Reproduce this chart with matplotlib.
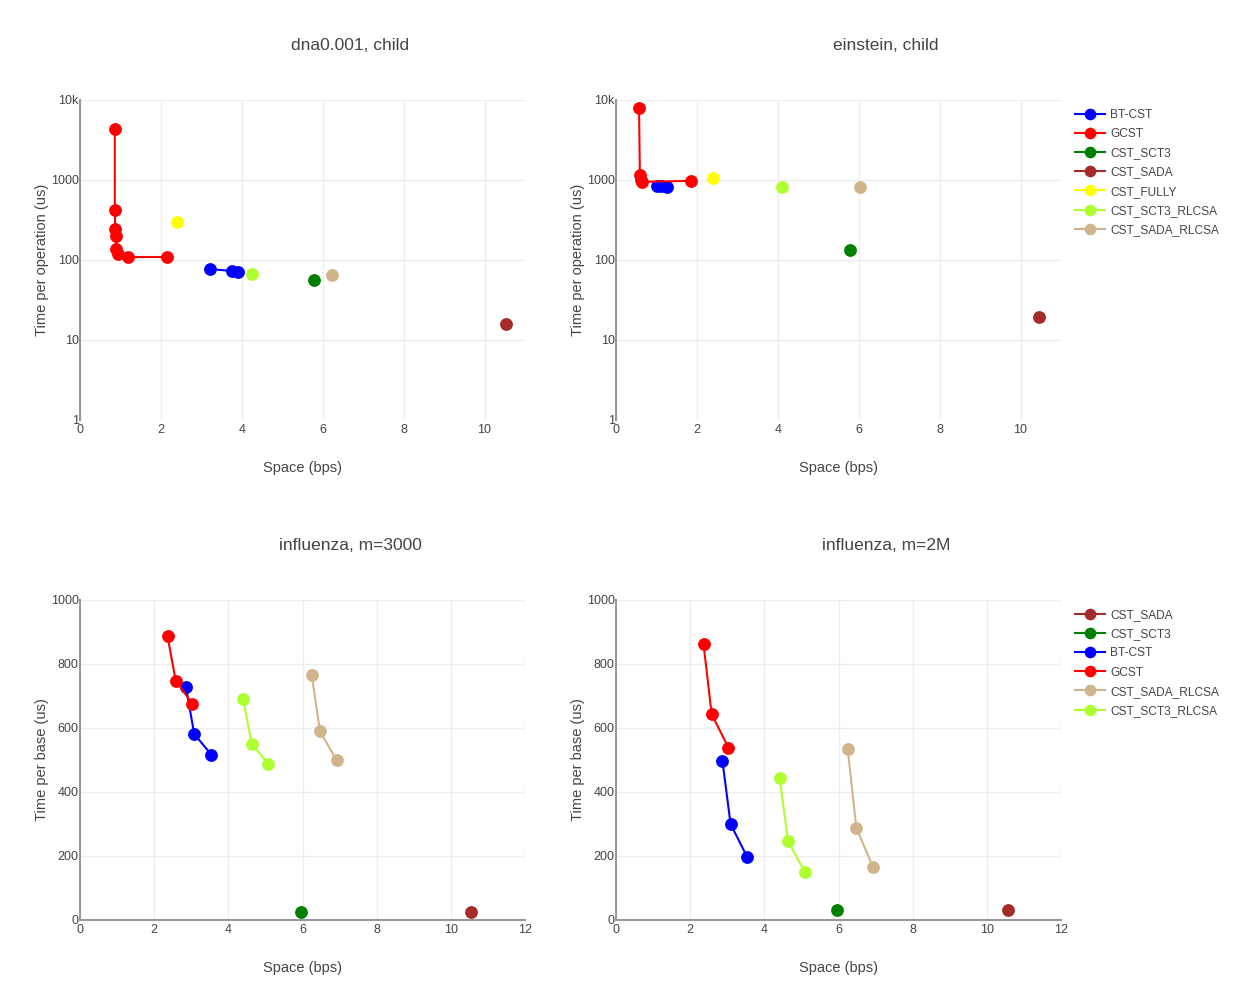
import matplotlib
matplotlib.use("Agg")
import matplotlib.pyplot as plt
from matplotlib.ticker import FixedLocator, NullLocator

plt.rcParams["font.family"] = ["Liberation Sans", "DejaVu Sans"]

# colours per structure
colors = {
    "BT-CST": "blue",
    "GCST": "red",
    "CST_SCT3": "green",
    "CST_SADA": "#a52a2a",
    "CST_FULLY": "yellow",
    "CST_SCT3_RLCSA": "#adff2f",
    "CST_SADA_RLCSA": "#d2b48c",
}

# dna0.001, child  (space in bps, time per operation in us)
dna_order = ["BT-CST", "GCST", "CST_SCT3", "CST_SADA", "CST_FULLY",
             "CST_SCT3_RLCSA", "CST_SADA_RLCSA"]
dna_space = {
    "BT-CST": [3.21, 3.75, 3.90],
    "GCST": [0.86, 0.86, 0.87, 0.88, 0.89, 0.93, 1.19, 2.15],
    "CST_SCT3": [5.78],
    "CST_SADA": [10.54],
    "CST_FULLY": [2.40],
    "CST_SCT3_RLCSA": [4.25],
    "CST_SADA_RLCSA": [6.22],
}
dna_time = {
    "BT-CST": [77, 73, 71],
    "GCST": [4400, 420, 245, 200, 137, 119, 109, 109],
    "CST_SCT3": [56],
    "CST_SADA": [15.8],
    "CST_FULLY": [300],
    "CST_SCT3_RLCSA": [67],
    "CST_SADA_RLCSA": [65],
}

# einstein, child
ein_space = {
    "BT-CST": [1.02, 1.10, 1.27],
    "GCST": [0.57, 0.59, 0.61, 0.65, 1.86],
    "CST_SCT3": [5.78],
    "CST_SADA": [10.45],
    "CST_FULLY": [2.40],
    "CST_SCT3_RLCSA": [4.10],
    "CST_SADA_RLCSA": [6.02],
}
ein_time = {
    "BT-CST": [840, 835, 820],
    "GCST": [7900, 1150, 1000, 950, 975],
    "CST_SCT3": [133],
    "CST_SADA": [19.4],
    "CST_FULLY": [1060],
    "CST_SCT3_RLCSA": [817],
    "CST_SADA_RLCSA": [817],
}

# influenza (time per base in us)
flu_order = ["CST_SADA", "CST_SCT3", "BT-CST", "GCST",
             "CST_SADA_RLCSA", "CST_SCT3_RLCSA"]
flu3000_space = {
    "CST_SADA": [10.55],
    "CST_SCT3": [5.96],
    "BT-CST": [2.86, 3.08, 3.54],
    "GCST": [2.36, 2.58, 3.03],
    "CST_SADA_RLCSA": [6.25, 6.47, 6.92],
    "CST_SCT3_RLCSA": [4.40, 4.63, 5.08],
}
flu3000_time = {
    "CST_SADA": [24],
    "CST_SCT3": [26],
    "BT-CST": [727, 581, 517],
    "GCST": [887, 748, 676],
    "CST_SADA_RLCSA": [765, 590, 499],
    "CST_SCT3_RLCSA": [691, 551, 487],
}
flu2m_space = {
    "CST_SADA": [10.56],
    "CST_SCT3": [5.96],
    "BT-CST": [2.87, 3.09, 3.54],
    "GCST": [2.36, 2.58, 3.03],
    "CST_SADA_RLCSA": [6.25, 6.48, 6.93],
    "CST_SCT3_RLCSA": [4.41, 4.64, 5.09],
}
flu2m_time = {
    "CST_SADA": [31],
    "CST_SCT3": [30],
    "BT-CST": [497, 300, 196],
    "GCST": [862, 643, 539],
    "CST_SADA_RLCSA": [533, 289, 165],
    "CST_SCT3_RLCSA": [445, 246, 151],
}

TXT = "#444444"
W, H = 1236, 1000
fig = plt.figure(figsize=(W / 100, H / 100), dpi=100)


def make_ax(x0, y0, x1, y1):
    return fig.add_axes([x0 / W, 1 - y1 / H, (x1 - x0) / W, (y1 - y0) / H])


def style(ax, log, xmax, xticks):
    for s in ax.spines.values():
        s.set_visible(False)
    ax.spines["left"].set_visible(True)
    ax.spines["left"].set_color("#999999")
    ax.spines["left"].set_linewidth(1.5)
    if not log:
        ax.spines["bottom"].set_visible(True)
        ax.spines["bottom"].set_color("#999999")
        ax.spines["bottom"].set_linewidth(1.5)
    ax.set_xlim(0, xmax)
    ax.xaxis.set_major_locator(FixedLocator(xticks))
    ax.set_xticklabels([str(t) for t in xticks])
    if log:
        ax.set_yscale("log")
        ax.set_ylim(1, 10000)
        ax.yaxis.set_major_locator(FixedLocator([1, 10, 100, 1000, 10000]))
        ax.yaxis.set_minor_locator(NullLocator())
        ax.set_yticklabels(["1", "10", "100", "1000", "10k"])
    else:
        ax.set_ylim(0, 1000)
        ax.yaxis.set_major_locator(FixedLocator([0, 200, 400, 600, 800, 1000]))
        ax.set_yticklabels(["0", "200", "400", "600", "800", "1000"])
    ax.grid(True, color="#eeeeee", linewidth=1)
    ax.set_axisbelow(True)
    ax.tick_params(axis="both", length=0, labelsize=9, labelcolor=TXT)
    ax.tick_params(axis="y", pad=1)
    ax.tick_params(axis="x", pad=3)
    ax.set_xlabel("Space (bps)", fontsize=10.5, color=TXT, labelpad=18)


def draw(ax, order, xs, ys):
    handles = []
    for name in order:
        h, = ax.plot(xs[name], ys[name], color=colors[name], linewidth=1.5,
                     marker="o", markersize=8.2, label=name, clip_on=False)
        handles.append(h)
    return handles


panels = [
    (80, 100, "dna0.001, child", "Time per operation (us)", True, dna_order, dna_space, dna_time),
    (616, 100, "einstein, child", "Time per operation (us)", True, dna_order, ein_space, ein_time),
    (80, 600, "influenza, m=3000", "Time per base (us)", False, flu_order, flu3000_space, flu3000_time),
    (616, 600, "influenza, m=2M", "Time per base (us)", False, flu_order, flu2m_space, flu2m_time),
]

for i, (px, py, title, ylab, log, order, xs, ys) in enumerate(panels):
    ax = make_ax(px, py, px + 445, py + 320)
    if log:
        style(ax, True, 11, [0, 2, 4, 6, 8, 10])
    else:
        style(ax, False, 12, [0, 2, 4, 6, 8, 10, 12])
    handles = draw(ax, order, xs, ys)
    ax.set_ylabel(ylab, fontsize=10.5, color=TXT, labelpad=1)
    fig.text((px + 270) / W, 1 - (py - 54) / H, title, ha="center", va="center",
             fontsize=12.5, color=TXT)
    if i in (1, 3):
        fig.legend(handles=handles, loc="upper left",
                   bbox_to_anchor=(1075 / W, 1 - (py + 9) / H),
                   frameon=False, fontsize=8.6, labelcolor=TXT,
                   handlelength=2.5, handletextpad=0.45, labelspacing=0.6,
                   borderaxespad=0, borderpad=0, markerscale=0.9)

fig.savefig("out.png", dpi=100)
